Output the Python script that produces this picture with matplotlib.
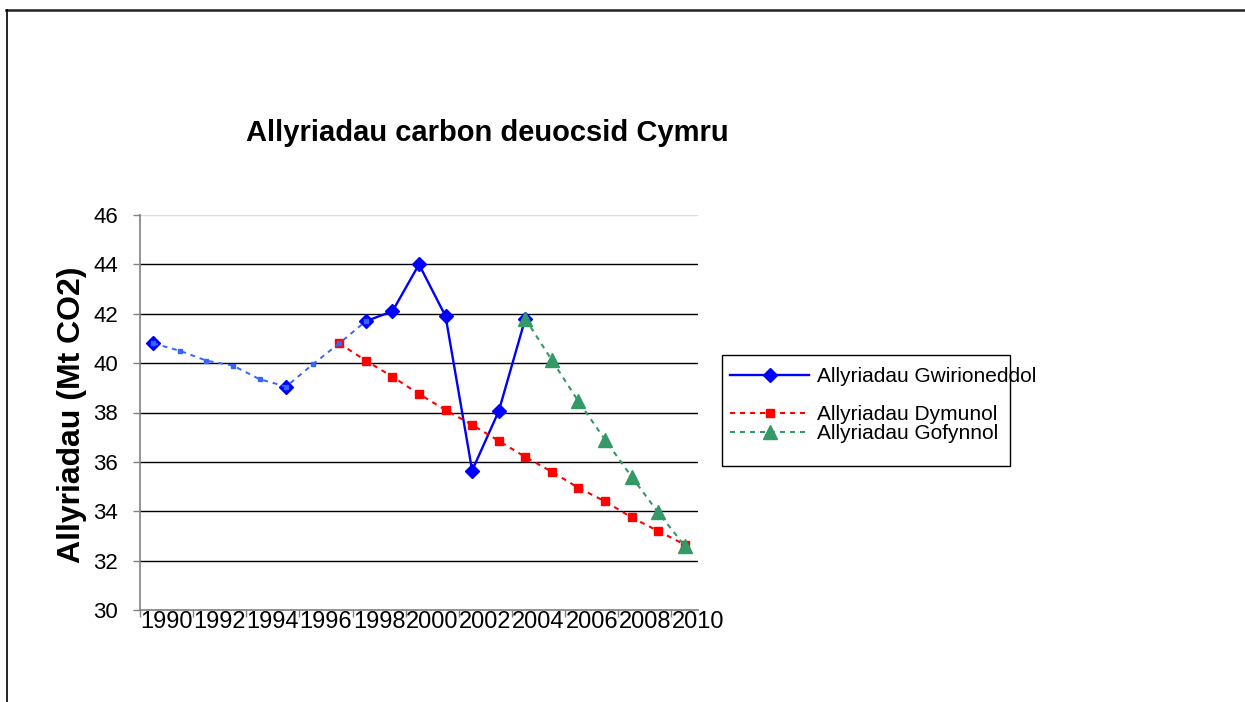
import numpy as np
import matplotlib
matplotlib.use("Agg")
import matplotlib.pyplot as plt
from matplotlib.lines import Line2D
from matplotlib.patches import Rectangle

plt.rcParams['font.family'] = ['Liberation Sans', 'DejaVu Sans']

years = list(range(1990, 2011))
tick_labels = [str(y) for y in range(1990, 2011, 2)]
nan = np.nan

# Allyriadau Gwirioneddol (actual)
actual = [40.8, nan, nan, nan, nan, 39.05, nan, nan, 41.7, 42.1, 44.0, 41.9, 35.65, 38.05, 41.8,
          nan, nan, nan, nan, nan, nan]
# interpolated filler series (no legend entry)
interp = [40.8, 40.5, 40.1, 39.9, 39.35, 39.05, 39.95, 40.8, 41.7, nan, nan, nan, nan, nan, nan,
          nan, nan, nan, nan, nan, nan]
# Allyriadau Dymunol (desired)
desired = [nan, nan, nan, nan, nan, nan, nan, 40.8, 40.1, 39.45, 38.75, 38.1, 37.5, 36.85, 36.2,
           35.6, 34.95, 34.4, 33.75, 33.2, 32.65]
# Allyriadau Gofynnol (required)
required = [nan] * 14 + [41.8, 40.12, 38.45, 36.9, 35.4, 33.95, 32.6]

labels = ['Allyriadau Gwirioneddol', 'Allyriadau Dymunol', 'Allyriadau Gofynnol']

W, H = 1245, 702
fig = plt.figure(figsize=(W / 100, H / 100), dpi=100)
ax = fig.add_axes([140 / W, 1 - 610 / H, (698 - 140) / W, (610 - 215) / H])

x = np.arange(len(years))

l_act, = ax.plot(x, actual, color='#0000FF', lw=1.7, marker='D', ms=7.5, zorder=3)
l_int, = ax.plot(x, interp, color='#3366FF', lw=1.4, ls=(0, (2.5, 2.5)), marker='s', ms=2.5,
                 zorder=5)
l_des, = ax.plot(x, desired, color='#FF0000', lw=1.5, ls=(0, (2.4, 2.4)), marker='s', ms=5.5,
                 zorder=4)
l_req, = ax.plot(x, required, color='#339966', lw=1.5, ls=(0, (2.4, 2.4)), marker='^', ms=10,
                 zorder=6)

ax.set_xlim(-0.5, len(years) - 0.5)
ax.set_ylim(30, 46)

for s in ['top', 'right']:
    ax.spines[s].set_visible(False)
for s in ['left', 'bottom']:
    ax.spines[s].set_color('#808080')
    ax.spines[s].set_linewidth(1.2)

ax.set_yticks(np.arange(30, 47, 2))
ax.tick_params(axis='y', direction='out', length=5, width=1, color='#808080',
               labelsize=16, pad=11)
for yv in range(32, 46, 2):
    ax.axhline(yv, color='black', lw=1, zorder=1)
ax.axhline(46, color='#dddddd', lw=1, zorder=1)

ax.set_xticks(np.arange(-0.5, len(years), 2))
ax.set_xticklabels([])
ax.tick_params(axis='x', which='major', direction='out', length=5, width=1, color='#808080')
ax.set_xticks(np.arange(0.5, len(years) + 1, 2), minor=True)
ax.set_xticklabels(tick_labels, minor=True)
ax.tick_params(axis='x', which='minor', length=0, labelsize=17, pad=1)

fig.text(487 / W, 1 - 133 / H, 'Allyriadau carbon deuocsid Cymru', ha='center', va='center',
         fontsize=21, fontweight='bold')
fig.text(72 / W, 1 - 415 / H, 'Allyriadau (Mt CO2)', ha='center', va='center', rotation=90,
         fontsize=23, fontweight='bold')

blank = Line2D([], [], color='none')
leg = fig.legend([l_act, blank, l_des, l_req, blank],
                 [labels[0], '', labels[1], labels[2], ''],
                 loc='upper left', bbox_to_anchor=(722 / W, 1 - 359 / H),
                 frameon=False, fontsize=15, handlelength=3.8, handletextpad=0.35,
                 labelspacing=0.0, borderpad=0.4, borderaxespad=0)

fig.patches.append(Rectangle((722 / W, 1 - 466 / H), (1010 - 722) / W, (466 - 355) / H,
                             transform=fig.transFigure, fill=False, edgecolor='black', lw=1))

# outer frame fragments
fig.add_artist(Line2D([6 / W, 1], [1 - 10 / H, 1 - 10 / H], transform=fig.transFigure,
                      color='#222222', lw=1.8))
fig.add_artist(Line2D([7 / W, 7 / W], [1 - 10 / H, 0], transform=fig.transFigure,
                      color='black', lw=1.2))

fig.savefig('out.png', dpi=100)
